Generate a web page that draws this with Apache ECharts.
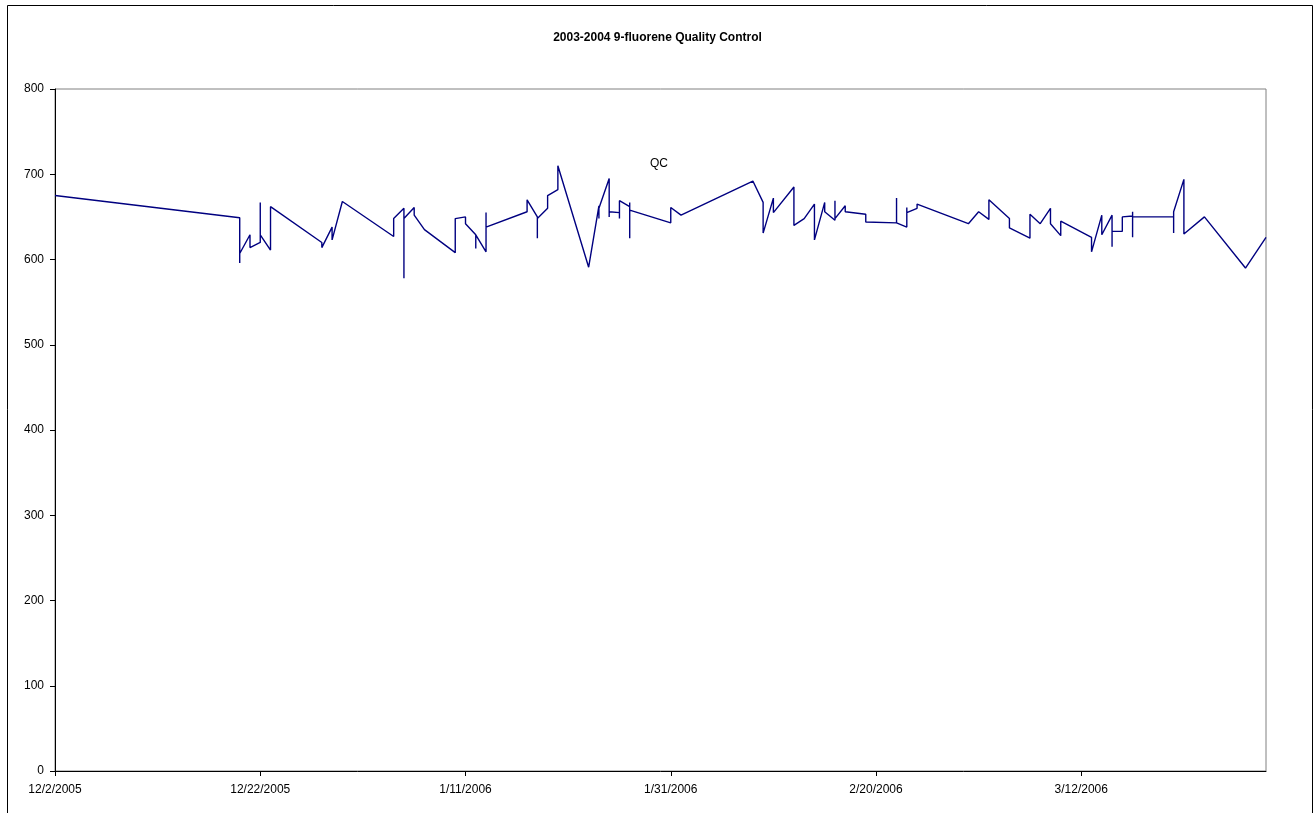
<!DOCTYPE html>
<html>
<head>
<meta charset="utf-8">
<title>2003-2004 9-fluorene Quality Control</title>
<script src="https://cdn.jsdelivr.net/npm/echarts@6/dist/echarts.min.js"></script>
<style>
  html, body { margin: 0; padding: 0; background: #ffffff; }
  #chart { width: 1315px; height: 813px; }
</style>
</head>
<body>
<div id="chart"></div>
<script>
// QC samples, in run order (several runs can share one day)
const sampleDates = [
  '2005-12-02', '2005-12-20', '2005-12-20', '2005-12-20', '2005-12-21', '2005-12-21',
  '2005-12-22', '2005-12-22', '2005-12-22', '2005-12-23', '2005-12-23', '2005-12-28',
  '2005-12-28', '2005-12-29', '2005-12-29', '2005-12-30', '2006-01-04', '2006-01-04',
  '2006-01-05', '2006-01-05', '2006-01-05', '2006-01-06', '2006-01-06', '2006-01-07',
  '2006-01-10', '2006-01-10', '2006-01-11', '2006-01-11', '2006-01-12', '2006-01-12',
  '2006-01-12', '2006-01-13', '2006-01-13', '2006-01-13', '2006-01-17', '2006-01-17',
  '2006-01-18', '2006-01-18', '2006-01-18', '2006-01-19', '2006-01-19', '2006-01-20',
  '2006-01-20', '2006-01-23', '2006-01-24', '2006-01-24', '2006-01-24', '2006-01-25',
  '2006-01-25', '2006-01-25', '2006-01-26', '2006-01-26', '2006-01-26', '2006-01-27',
  '2006-01-27', '2006-01-27', '2006-01-27', '2006-01-31', '2006-01-31', '2006-02-01',
  '2006-02-08', '2006-02-09', '2006-02-09', '2006-02-10', '2006-02-10', '2006-02-12',
  '2006-02-12', '2006-02-13', '2006-02-14', '2006-02-14', '2006-02-15', '2006-02-15',
  '2006-02-16', '2006-02-16', '2006-02-16', '2006-02-17', '2006-02-17', '2006-02-19',
  '2006-02-19', '2006-02-22', '2006-02-22', '2006-02-22', '2006-02-23', '2006-02-23',
  '2006-02-23', '2006-02-24', '2006-02-24', '2006-03-01', '2006-03-02', '2006-03-03',
  '2006-03-03', '2006-03-05', '2006-03-05', '2006-03-07', '2006-03-07', '2006-03-08',
  '2006-03-09', '2006-03-09', '2006-03-10', '2006-03-10', '2006-03-13', '2006-03-13',
  '2006-03-14', '2006-03-14', '2006-03-15', '2006-03-15', '2006-03-15', '2006-03-16',
  '2006-03-16', '2006-03-17', '2006-03-17', '2006-03-17', '2006-03-17', '2006-03-21',
  '2006-03-21', '2006-03-21', '2006-03-22', '2006-03-22', '2006-03-24', '2006-03-28',
  '2006-03-30'
]

const qcValues = [
  675, 649, 596, 607, 629, 614,
  620, 667, 629, 611, 662, 620,
  614, 638, 623, 668, 627, 648,
  660, 578, 648, 661, 652, 635,
  608, 648, 650, 642, 629, 613,
  629, 609, 655, 638, 656, 670,
  650, 625, 648, 660, 675, 682,
  710, 591, 663, 648, 660, 695,
  650, 656, 655, 648, 669, 662,
  667, 625, 658, 643, 661, 652,
  692, 667, 631, 672, 655, 685,
  640, 648, 665, 623, 667, 656,
  646, 669, 648, 663, 656, 653,
  644, 643, 672, 643, 638, 661,
  655, 660, 665, 642, 656, 647,
  670, 648, 637, 625, 653, 642,
  660, 642, 628, 645, 626, 609,
  652, 629, 652, 615, 633, 633,
  650, 651, 626, 656, 650, 650,
  631, 656, 694, 630, 650, 590,
  626
]

const xStart = '2005-12-02'
const xEnd = '2006-03-30'
const xStepDays = 20
const yTicks = [0, 100, 200, 300, 400, 500, 600, 700, 800]

const DAY = 86400000

function toUtc(iso) {
  const [y, m, d] = iso.split('-').map(Number)
  return Date.UTC(y, m - 1, d)
}

const startMs = toUtc(xStart)

function dayOffset(iso) {
  return Math.round((toUtc(iso) - startMs) / DAY)
}

function formatDay(offset) {
  const date = new Date(startMs + offset * DAY)
  return (date.getUTCMonth() + 1) + '/' + date.getUTCDate() + '/' + date.getUTCFullYear()
}

const seriesData = sampleDates.map((d, i) => [dayOffset(d), qcValues[i]])

const chart = echarts.init(document.getElementById('chart'), null, { renderer: 'canvas' })

const font = '"Liberation Sans", Arial, sans-serif'

chart.setOption({
  animation: false,
  backgroundColor: '#ffffff',
  textStyle: { fontFamily: font },
  title: {
    text: '2003-2004 9-fluorene Quality Control',
    left: 'center',
    top: 27,
    textStyle: { fontSize: 12, fontWeight: 'bold', color: '#000000', fontFamily: font }
  },
  graphic: [
    {
      type: 'rect',
      shape: { x: 7.5, y: 5.5, width: 1305, height: 830 },
      style: { fill: 'none', stroke: '#000000', lineWidth: 1 },
      silent: true
    },
    {
      type: 'text',
      left: 650,
      top: 158,
      style: { text: 'QC', font: '12px ' + font, fill: '#000000' },
      silent: true
    }
  ],
  grid: {
    left: 55,
    right: 49,
    top: 89,
    bottom: 42,
    show: true,
    borderColor: '#808080',
    borderWidth: 1,
    backgroundColor: '#ffffff'
  },
  xAxis: {
    type: 'value',
    min: 0,
    max: dayOffset(xEnd),
    interval: xStepDays,
    axisLine: { show: true, lineStyle: { color: '#000000', width: 1 } },
    axisTick: { show: true, length: 5, lineStyle: { color: '#000000' } },
    splitLine: { show: false },
    axisLabel: {
      color: '#000000',
      fontSize: 12,
      margin: 13,
      showMaxLabel: false,
      formatter: (v) => (v % xStepDays === 0 ? formatDay(v) : '')
    }
  },
  yAxis: {
    type: 'value',
    min: yTicks[0],
    max: yTicks[yTicks.length - 1],
    interval: yTicks[1] - yTicks[0],
    axisLine: { show: true, lineStyle: { color: '#000000', width: 1 } },
    axisTick: { show: true, length: 5, lineStyle: { color: '#000000' } },
    splitLine: { show: false },
    axisLabel: { color: '#000000', fontSize: 12, margin: 11 }
  },
  series: [
    {
      name: 'QC',
      type: 'line',
      data: seriesData,
      showSymbol: false,
      symbol: 'none',
      lineStyle: { color: '#000080', width: 1.4 },
      emphasis: { disabled: true }
    }
  ]
})
</script>
</body>
</html>
